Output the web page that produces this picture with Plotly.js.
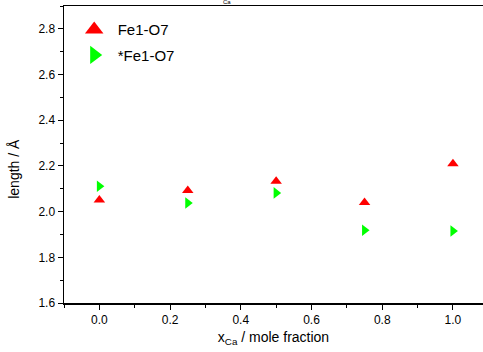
<!DOCTYPE html>
<html>
<head>
<meta charset="utf-8">
<script src="https://cdn.plot.ly/plotly-3.0.1.min.js"></script>
<style>html,body{margin:0;padding:0;background:#fff;}#chart{width:483px;height:352px;}</style>
</head>
<body>
<div id="chart"></div>
<script>
const xCa = [0.0, 0.25, 0.5, 0.75, 1.0];
const fe1o7 = [2.051, 2.092, 2.133, 2.040, 2.209];
const starFe1o7 = [2.111, 2.038, 2.082, 1.918, 1.915];
const seriesNames = ["Fe1-O7", "*Fe1-O7"];
const xTickVals = [0.0, 0.2, 0.4, 0.6, 0.8, 1.0];
const xTickText = ["0.0", "0.2", "0.4", "0.6", "0.8", "1.0"];
const yTickVals = [1.6, 1.8, 2.0, 2.2, 2.4, 2.6, 2.8];
const yTickText = ["1.6", "1.8", "2.0", "2.2", "2.4", "2.6", "2.8"];

const red = "#ff0000", green = "#00ff00";
const data = [
  {x: xCa, y: fe1o7, type: "scatter", mode: "markers", name: seriesNames[0], showlegend: false,
   marker: {symbol: "triangle-up", size: 10, color: red}},
  {x: xCa, y: starFe1o7, type: "scatter", mode: "markers", name: seriesNames[1], showlegend: false,
   marker: {symbol: "triangle-right", size: 10, color: green}},
  {x: [null], y: [null], type: "scatter", mode: "markers", name: seriesNames[0], legendgroup: "a",
   marker: {symbol: "triangle-up", size: 20, color: red}},
  {x: [null], y: [null], type: "scatter", mode: "markers", name: seriesNames[1], legendgroup: "b",
   marker: {symbol: "triangle-right", size: 20, color: green}}
];

const fam = "Arial, 'Liberation Sans', sans-serif";
const axisFont = {family: fam, size: 12, color: "#000"};
const layout = {
  width: 483, height: 352,
  margin: {l: 64, r: 0, t: 6, b: 49, pad: 0},
  paper_bgcolor: "#fff", plot_bgcolor: "#fff",
  font: axisFont,
  showlegend: true,
  legend: {x: 0.016, y: 0.976, xanchor: "left", yanchor: "top", bgcolor: "rgba(0,0,0,0)",
           font: {family: fam, size: 15, color: "#000"},
           tracegroupgap: 3, itemwidth: 37},
  xaxis: {range: [-0.1, 1.085], showgrid: false, zeroline: false,
          showline: true, linecolor: "#000", linewidth: 1.5, mirror: true,
          ticks: "outside", ticklen: 5, tickwidth: 1, tickcolor: "#000",
          tickvals: xTickVals, ticktext: xTickText,
          minor: {dtick: 0.1, ticks: "outside", ticklen: 3, tickcolor: "#000", showgrid: false},
          tickfont: axisFont,
          title: {text: "x<sub>Ca</sub> / mole fraction", standoff: 6,
                  font: {family: fam, size: 14, color: "#000"}}},
  yaxis: {range: [1.6, 2.9], showgrid: false, zeroline: false,
          showline: true, linecolor: "#000", linewidth: 1.5, mirror: false,
          ticks: "outside", ticklen: 5, tickwidth: 1, tickcolor: "#000",
          tickvals: yTickVals, ticktext: yTickText,
          minor: {dtick: 0.1, ticks: "outside", ticklen: 3, tickcolor: "#000", showgrid: false},
          tickfont: axisFont},
  annotations: [
    {text: "length / Å", xref: "paper", yref: "paper", x: -0.12, y: 0.451,
     xanchor: "center", yanchor: "middle", textangle: -90, showarrow: false,
     font: {family: fam, size: 14, color: "#000"}},
    {text: "Ca", xref: "paper", yref: "paper", x: 0.39, y: 1.0, yshift: 0, borderpad: 0,
     xanchor: "center", yanchor: "bottom", showarrow: false,
     font: {family: fam, size: 6, color: "#000"}}
  ]
};
Plotly.newPlot("chart", data, layout, {staticPlot: true, displayModeBar: false});
</script>
</body>
</html>
